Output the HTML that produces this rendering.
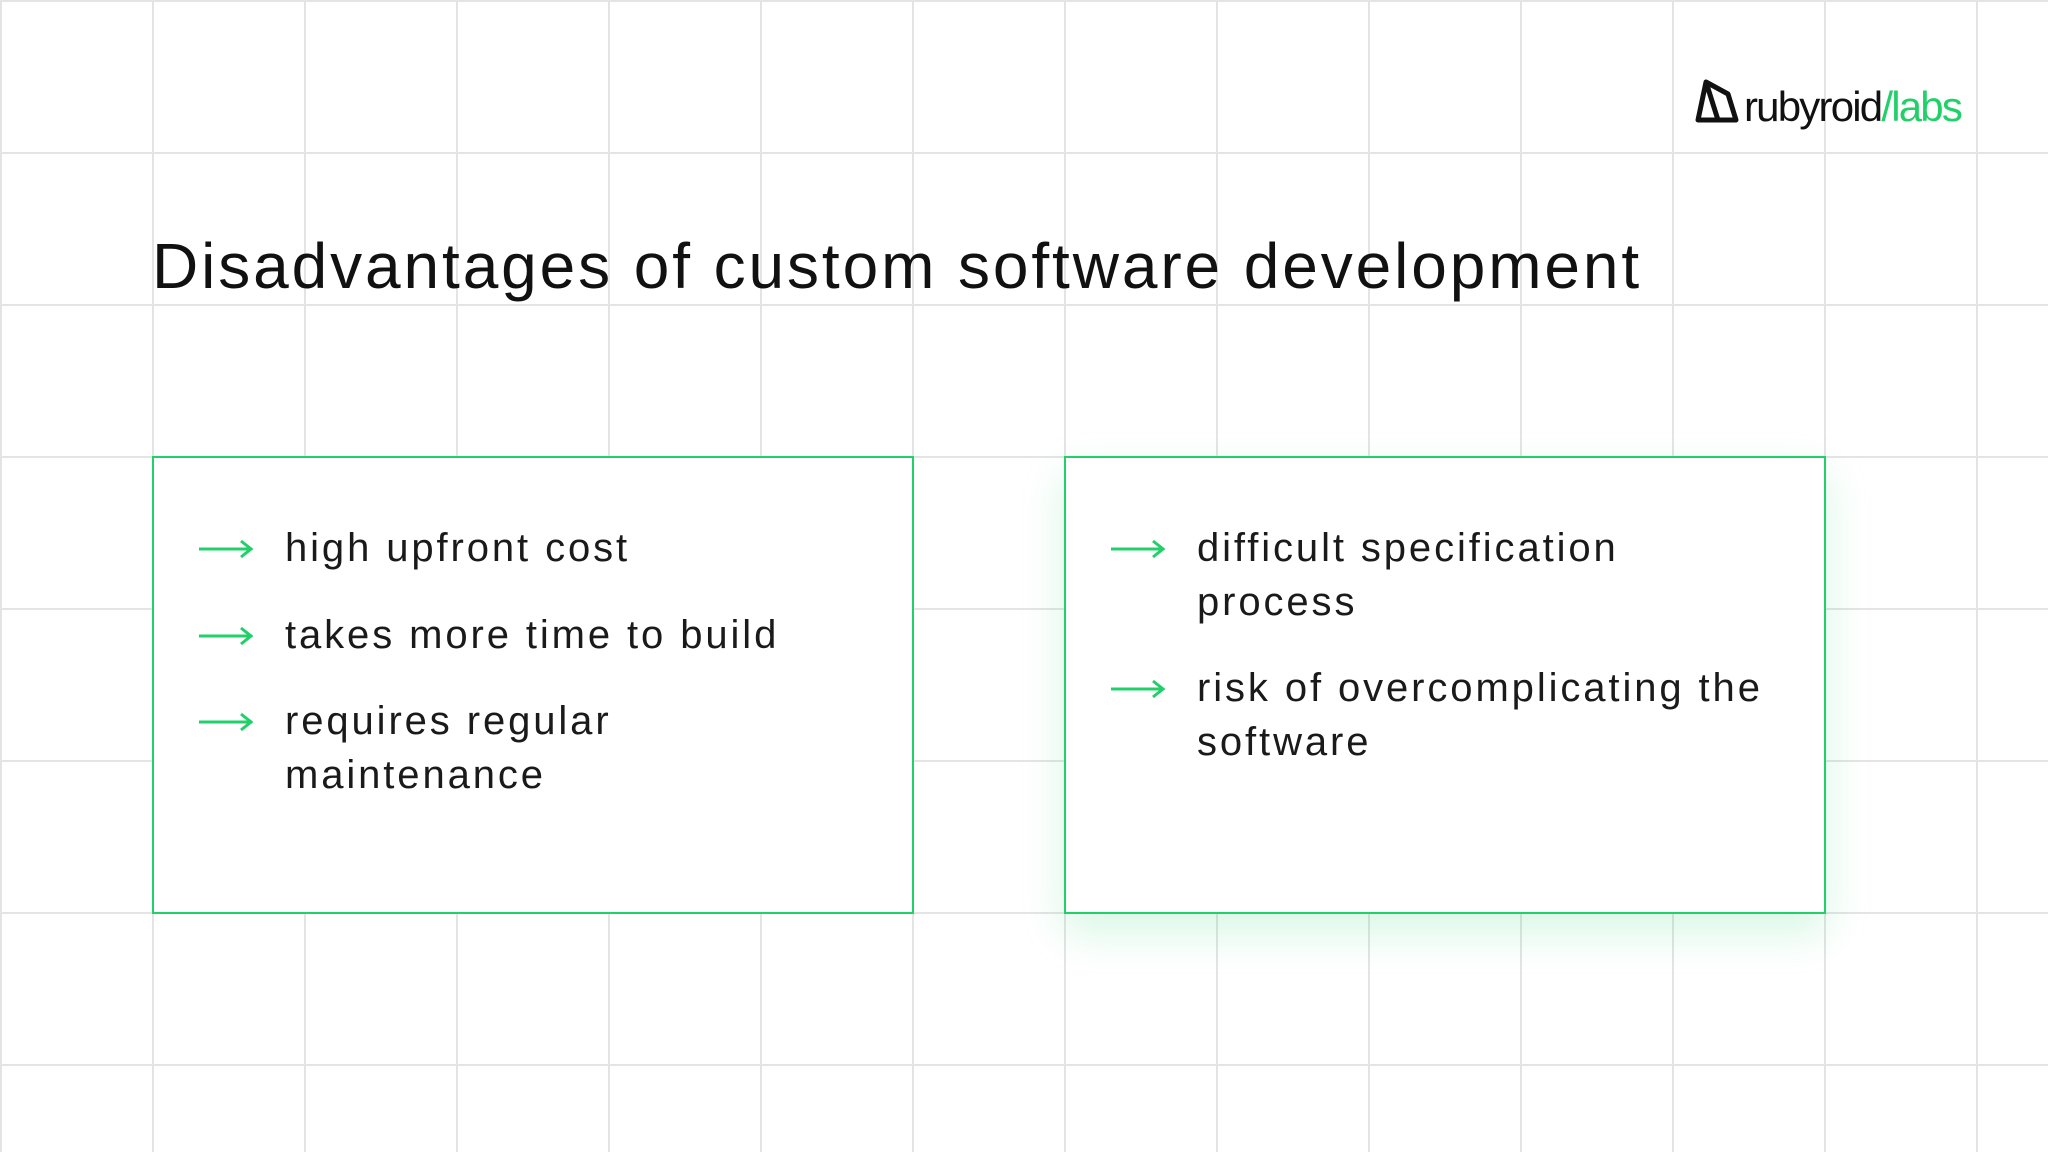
<!DOCTYPE html>
<html><head><meta charset="utf-8"><style>
html,body{margin:0;padding:0}
body{width:2048px;height:1152px;position:relative;overflow:hidden;background:#fff;font-family:"Liberation Sans",sans-serif;color:#111;
background-image:linear-gradient(to right,#e4e4e4 2px,transparent 2px),linear-gradient(to bottom,#e4e4e4 2px,transparent 2px);
background-size:152px 152px;background-position:0 0}
.box{position:absolute;border:2px solid #22d06a;background:#fff;box-sizing:border-box}
.t{position:absolute;font-size:40px;line-height:54px;letter-spacing:2.9px;color:#1a1a1a}
.a{position:absolute;width:54px;height:20px}
h1{position:absolute;left:152px;top:229px;margin:0;font-weight:500;font-size:64px;letter-spacing:2.9px;color:#111;white-space:nowrap}
</style></head><body>
<h1>Disadvantages of custom software development</h1>
<div class="box" style="left:152px;top:456px;width:762px;height:458px"></div>
<div class="box" style="left:1064px;top:456px;width:762px;height:458px;box-shadow:0 18px 40px rgba(34,208,106,0.18)"></div>

<svg class="a" style="left:199px;top:539px" viewBox="0 0 54 20"><path d="M0 10H52M42 2L52 10L42 18" stroke="#22d06a" stroke-width="3" fill="none"/></svg>
<div class="t" style="left:285px;top:521px">high upfront cost</div>
<svg class="a" style="left:199px;top:626px" viewBox="0 0 54 20"><path d="M0 10H52M42 2L52 10L42 18" stroke="#22d06a" stroke-width="3" fill="none"/></svg>
<div class="t" style="left:285px;top:608px">takes more time to build</div>
<svg class="a" style="left:199px;top:712px" viewBox="0 0 54 20"><path d="M0 10H52M42 2L52 10L42 18" stroke="#22d06a" stroke-width="3" fill="none"/></svg>
<div class="t" style="left:285px;top:694px">requires regular<br>maintenance</div>

<svg class="a" style="left:1111px;top:539px" viewBox="0 0 54 20"><path d="M0 10H52M42 2L52 10L42 18" stroke="#22d06a" stroke-width="3" fill="none"/></svg>
<div class="t" style="left:1197px;top:521px">difficult specification<br>process</div>
<svg class="a" style="left:1111px;top:679px" viewBox="0 0 54 20"><path d="M0 10H52M42 2L52 10L42 18" stroke="#22d06a" stroke-width="3" fill="none"/></svg>
<div class="t" style="left:1197px;top:661px">risk of overcomplicating the<br>software</div>

<svg style="position:absolute;left:1694px;top:78px" width="46" height="46" viewBox="0 0 46 46"><path d="M4 42L12 4L34 16L42 42Z M12 4L24 42" stroke="#111" stroke-width="5" fill="none" stroke-linejoin="round"/></svg>
<div style="position:absolute;left:1744px;top:80px;font-size:42px;line-height:54px;letter-spacing:-1.8px;font-weight:500;color:#111">rubyroid<span style="color:#22d06a">/labs</span></div>
</body></html>
